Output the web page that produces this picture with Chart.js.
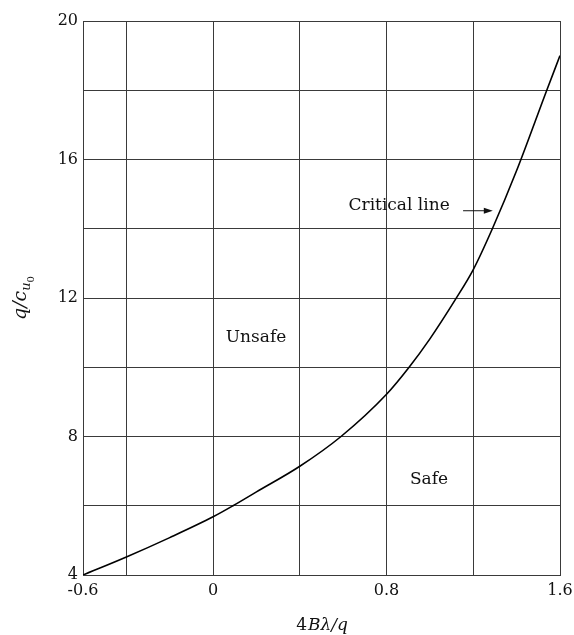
<!DOCTYPE html>
<html>
<head>
<meta charset="utf-8">
<script src="https://cdn.jsdelivr.net/npm/chart.js@4"></script>
<style>
  html, body { margin: 0; padding: 0; background: #fff; }
  #wrap { width: 574px; height: 635px; position: relative; }
</style>
</head>
<body>
<div id="wrap"><canvas id="c" width="574" height="635"></canvas></div>
<script>
// ---- data ----
const curveX = [-0.6, -0.4, -0.2, 0.0, 0.092, 0.2, 0.4, 0.59, 0.8, 0.904, 1.0, 1.12, 1.2, 1.288, 1.4, 1.539, 1.6];
const curveY = [4.0, 4.52, 5.08, 5.68, 6.0, 6.40, 7.14, 8.0, 9.22, 10.0, 10.82, 11.98, 12.82, 14.0, 15.68, 18.0, 19.0];

const xGridValues = [-0.6, -0.4, 0, 0.4, 0.8, 1.2, 1.6];
const xTickLabels = [-0.6, 0, 0.8, 1.6];
const yGridValues = [4, 6, 8, 10, 12, 14, 16, 18, 20];
const yTickLabels = [4, 8, 12, 16, 20];

const regionLabels = ["Unsafe", "Safe", "Critical line"];
const regionLabelX = [0.198, 0.996, 0.858];
const regionLabelY = [10.87, 6.77, 14.66];

const arrowFromX = 1.153, arrowToX = 1.29, arrowY = 14.52;

const FONT = "'DejaVu Serif', 'Liberation Serif', serif";
const INK = '#111';
const GRID = '#3a3a3a';

const annotate = {
  id: 'annotate',
  afterDatasetsDraw(chart) {
    const ctx = chart.ctx;
    const xs = chart.scales.x, ys = chart.scales.y;
    ctx.save();
    ctx.fillStyle = INK;
    ctx.font = "17px " + FONT;
    ctx.textAlign = 'center';
    ctx.textBaseline = 'middle';
    regionLabels.forEach((t, i) => {
      ctx.fillText(t, xs.getPixelForValue(regionLabelX[i]), ys.getPixelForValue(regionLabelY[i]));
    });
    // arrow
    const x0 = xs.getPixelForValue(arrowFromX), x1 = xs.getPixelForValue(arrowToX), y = ys.getPixelForValue(arrowY);
    ctx.strokeStyle = INK; ctx.lineWidth = 1;
    ctx.beginPath(); ctx.moveTo(x0, y); ctx.lineTo(x1 - 6, y); ctx.stroke();
    ctx.beginPath(); ctx.moveTo(x1, y); ctx.lineTo(x1 - 9, y - 3); ctx.lineTo(x1 - 9, y + 3); ctx.closePath(); ctx.fill();

    // x axis title: 4Bλ/q
    const ca = chart.chartArea;
    ctx.textBaseline = 'alphabetic';
    ctx.textAlign = 'left';
    ctx.font = "17px " + FONT;
    const w4 = ctx.measureText("4").width;
    ctx.font = "italic 17px " + FONT;
    const wRest = ctx.measureText("Bλ/q").width;
    let tx = (ca.left + ca.right) / 2 - (w4 + wRest) / 2;
    ctx.font = "17px " + FONT;
    ctx.fillText("4", tx, 630);
    ctx.font = "italic 17px " + FONT;
    ctx.fillText("Bλ/q", tx + w4 + 1, 630);

    // y axis title: q/c_{u0} rotated
    ctx.translate(26, (ca.top + ca.bottom) / 2);
    ctx.rotate(-Math.PI / 2);
    ctx.textAlign = 'left';
    ctx.font = "italic 19px " + FONT;
    const main = "q/c";
    const wMain = ctx.measureText(main).width;
    ctx.font = "italic 13px " + FONT;
    const wSub = ctx.measureText("u").width;
    ctx.font = "10px " + FONT;
    const wSub2 = ctx.measureText("0").width;
    const total = wMain + wSub + wSub2;
    let sx = -total / 2;
    ctx.font = "italic 19px " + FONT;
    ctx.fillText(main, sx, 0);
    sx += wMain;
    ctx.font = "italic 13px " + FONT;
    ctx.fillText("u", sx, 4);
    sx += wSub;
    ctx.font = "10px " + FONT;
    ctx.fillText("0", sx, 8);
    ctx.restore();
  }
};

const near = (v, arr) => arr.some(a => Math.abs(a - v) < 1e-6);

new Chart(document.getElementById('c'), {
  type: 'line',
  data: {
    datasets: [{
      data: curveX.map((x, i) => ({ x: x, y: curveY[i] })),
      borderColor: '#000',
      borderWidth: 1.6,
      pointRadius: 0,
      fill: false,
      cubicInterpolationMode: 'monotone'
    }]
  },
  options: {
    responsive: false,
    animation: false,
    devicePixelRatio: 1,
    layout: { padding: { left: 0, top: 21, right: 14, bottom: 0 } },
    plugins: { legend: { display: false }, tooltip: { enabled: false } },
    scales: {
      x: {
        type: 'linear', min: -0.6, max: 1.6,
        afterBuildTicks: s => { s.ticks = xGridValues.map(v => ({ value: v })); },
        afterFit: s => { s.height = 60; s.paddingLeft = 0; s.paddingRight = 0; },
        grid: { color: GRID, lineWidth: 1, drawTicks: false },
        border: { color: GRID, width: 1 },
        ticks: {
          padding: 6, color: INK, maxRotation: 0, autoSkip: false,
          font: { family: FONT, size: 16 },
          callback: v => near(v, xTickLabels) ? String(Math.round(v * 10) / 10) : ''
        }
      },
      y: {
        type: 'linear', min: 4, max: 20,
        afterBuildTicks: s => { s.ticks = yGridValues.map(v => ({ value: v })); },
        afterFit: s => { s.width = 83; s.paddingTop = 0; s.paddingBottom = 0; },
        grid: { color: GRID, lineWidth: 1, drawTicks: false },
        border: { color: GRID, width: 1 },
        ticks: {
          padding: 5, color: INK, autoSkip: false,
          font: { family: FONT, size: 16 },
          callback: v => near(v, yTickLabels) ? String(v) : ''
        }
      }
    }
  },
  plugins: [annotate]
});
</script>
</body>
</html>
